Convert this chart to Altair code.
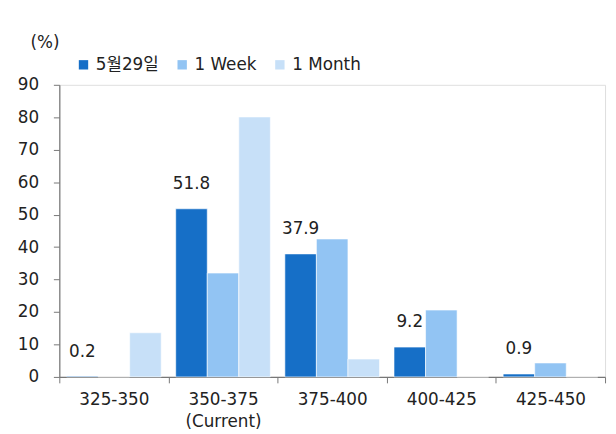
import altair as alt
import pandas as pd

categories = ["325-350", "350-375 (Current)", "375-400", "400-425", "425-450"]
series = ["5월29일", "1 Week", "1 Month"]
v_may29 = [0.2, 51.8, 37.9, 9.2, 0.9]
v_week = [0.0, 32.0, 42.5, 20.6, 4.3]
v_month = [13.6, 80.1, 5.5, 0.0, 0.0]
colors = ["#166fc7", "#92c4f3", "#c7e0f8"]

rows = []
for s, vals in zip(series, [v_may29, v_week, v_month]):
    for c, v in zip(categories, vals):
        rows.append({"range": c, "series": s, "value": v})
df = pd.DataFrame(rows)

FONT = "DejaVu Sans, Noto Sans CJK KR"
FS = 17

x_enc = alt.X("range:N", sort=categories, title=None,
              scale=alt.Scale(paddingInner=0, paddingOuter=0),
              axis=alt.Axis(labelAngle=0, tickBand="extent",
                            labelExpr="split(datum.label, ' ')",
                            labelFontSize=FS, labelFont=FONT, labelColor="#222",
                            labelPadding=9, labelLineHeight=22, labelOverlap=False,
                            tickSize=6, tickColor="#777", domainColor="#777",
                            domainWidth=1.2))
xo = alt.XOffset("series:N", sort=series,
                 scale=alt.Scale(paddingInner=0, paddingOuter=0.23))
y_enc = alt.Y("value:Q", scale=alt.Scale(domain=[0, 90]),
              axis=alt.Axis(values=list(range(0, 91, 10)), tickCount=10, grid=False,
                            labelOverlap=False,
                            title="(%)", titleAngle=0, titleX=-15, titleY=-43,
                            titleAlign="center", titleBaseline="middle",
                            titleFont=FONT, titleFontSize=FS, titleFontWeight="normal",
                            titleColor="#222",
                            labelFontSize=FS, labelFont=FONT, labelColor="#222",
                            labelPadding=15, tickSize=6, tickColor="#777",
                            domainColor="#777", domainWidth=1.2))

bars = alt.Chart(df).mark_bar(stroke="white", strokeWidth=0.6).encode(
    x=x_enc,
    xOffset=xo,
    y=y_enc,
    color=alt.Color("series:N", sort=series,
                    scale=alt.Scale(domain=series, range=colors),
                    legend=alt.Legend(title=None, orient="none", direction="horizontal",
                                      legendX=16, legendY=-29,
                                      symbolType="square", symbolSize=90,
                                      symbolStrokeWidth=0, symbolOpacity=1,
                                      labelFont=FONT, labelFontSize=FS, labelColor="#222",
                                      labelOffset=4, columnPadding=15)),
)

labels = alt.Chart(df).transform_filter(
    alt.datum.series == "5월29일"
).mark_text(dy=-25, font=FONT, fontSize=FS, color="#222").encode(
    x=x_enc,
    xOffset=xo,
    y=y_enc,
    text=alt.Text("value:Q", format=".1f"),
)

chart = alt.layer(bars, labels).properties(
    width=553, height=296,
    autosize=alt.AutoSizeParams(type="none"),
    padding={"left": 52, "top": 75, "right": 3, "bottom": 54},
).configure_view(stroke=None).configure(background="white")

chart.save("out.html", embed_options={"renderer": "svg", "actions": False})
